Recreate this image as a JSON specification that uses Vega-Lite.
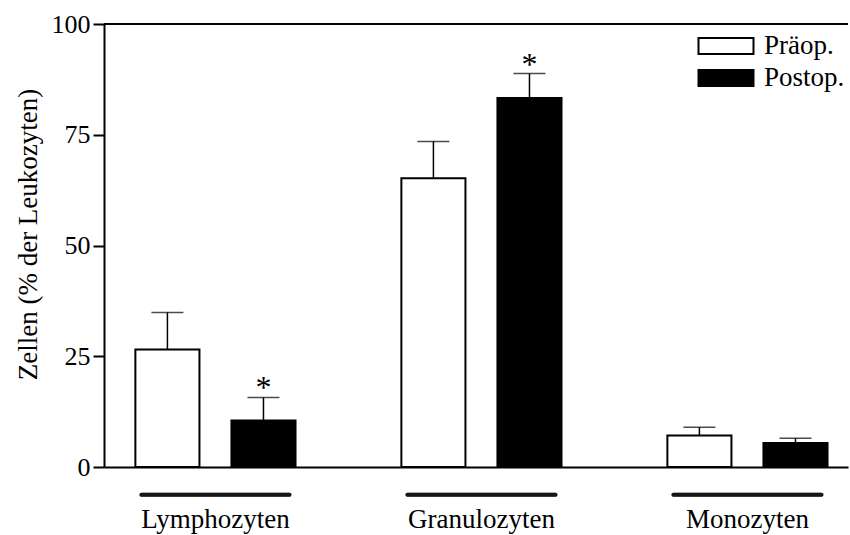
{
  "$schema": "https://vega.github.io/schema/vega-lite/v6.json",
  "width": 744,
  "height": 443,
  "autosize": "none",
  "padding": {"left": 104, "top": 24, "right": 2, "bottom": 68},
  "background": "white",
  "config": {
    "font": "Liberation Serif",
    "view": {"stroke": null},
    "axis": {"labelFont": "Liberation Serif", "titleFont": "Liberation Serif", "labelColor": "black", "titleColor": "black"},
    "legend": {"labelFont": "Liberation Serif"}
  },
  "data": {
    "values": [
      {"zelltyp": "Lymphozyten", "zeitpunkt": "Präop.", "wert": 26.5, "oben": 34.9, "sig": ""},
      {"zelltyp": "Lymphozyten", "zeitpunkt": "Postop.", "wert": 10.5, "oben": 15.7, "sig": "*"},
      {"zelltyp": "Granulozyten", "zeitpunkt": "Präop.", "wert": 65.2, "oben": 73.5, "sig": ""},
      {"zelltyp": "Granulozyten", "zeitpunkt": "Postop.", "wert": 83.3, "oben": 88.8, "sig": "*"},
      {"zelltyp": "Monozyten", "zeitpunkt": "Präop.", "wert": 7.1, "oben": 9.0, "sig": ""},
      {"zelltyp": "Monozyten", "zeitpunkt": "Postop.", "wert": 5.4, "oben": 6.5, "sig": ""}
    ]
  },
  "layer": [
    {
      "mark": {"type": "rule", "color": "black", "strokeWidth": 2},
      "encoding": {"y": {"datum": 100, "type": "quantitative", "scale": {"domain": [0, 100]}}}
    },
    {
      "mark": {"type": "bar", "stroke": "black", "strokeWidth": 2, "opacity": 1},
      "encoding": {
        "x": {
          "field": "zelltyp", "type": "nominal", "sort": ["Lymphozyten", "Granulozyten", "Monozyten"],
          "scale": {"paddingInner": 0.398, "paddingOuter": 0.0975, "align": 0.605},
          "axis": {"title": null, "ticks": false, "labelAngle": 0, "labelFontSize": 27, "labelPadding": 39,
                   "domainColor": "black", "domainWidth": 2}
        },
        "xOffset": {"field": "zeitpunkt", "type": "nominal", "sort": ["Präop.", "Postop."],
                    "scale": {"paddingInner": 0.333, "paddingOuter": 0}},
        "y": {
          "field": "wert", "type": "quantitative",
          "scale": {"domain": [0, 100], "nice": false},
          "axis": {"title": "Zellen (% der Leukozyten)", "values": [0, 25, 50, 75, 100], "grid": false,
                   "labelFontSize": 26, "titleFontSize": 27, "titleFontWeight": "normal",
                   "tickSize": 11, "tickColor": "black", "tickWidth": 2, "labelPadding": 3,
                   "domainColor": "black", "domainWidth": 2, "titlePadding": 9, "titleY": 210}
        },
        "color": {
          "field": "zeitpunkt", "type": "nominal", "sort": ["Präop.", "Postop."],
          "scale": {"domain": ["Präop.", "Postop."], "range": ["white", "black"]},
          "legend": {
            "title": null, "orient": "none", "legendX": 607, "legendY": 7,
            "symbolType": "M-2,-0.58H2V0.58H-2Z", "symbolSize": 756,
            "symbolStrokeColor": "black", "symbolStrokeWidth": 2, "symbolOpacity": 1,
            "labelFontSize": 27, "labelOffset": 23, "labelColor": "black", "rowPadding": 4
          }
        }
      }
    },
    {
      "mark": {"type": "rule", "color": "black", "strokeWidth": 1.5},
      "encoding": {
        "x": {"field": "zelltyp", "type": "nominal", "sort": ["Lymphozyten", "Granulozyten", "Monozyten"]},
        "xOffset": {"field": "zeitpunkt", "type": "nominal", "sort": ["Präop.", "Postop."]},
        "y": {"field": "wert", "type": "quantitative"},
        "y2": {"field": "oben"}
      }
    },
    {
      "mark": {"type": "tick", "color": "black", "thickness": 1.5, "size": 32, "orient": "horizontal"},
      "encoding": {
        "x": {"field": "zelltyp", "type": "nominal", "sort": ["Lymphozyten", "Granulozyten", "Monozyten"]},
        "xOffset": {"field": "zeitpunkt", "type": "nominal", "sort": ["Präop.", "Postop."]},
        "y": {"field": "oben", "type": "quantitative"}
      }
    },
    {
      "transform": [{"filter": "datum.sig != ''"}],
      "mark": {"type": "text", "fontSize": 32, "baseline": "alphabetic", "dy": 1, "color": "black"},
      "encoding": {
        "x": {"field": "zelltyp", "type": "nominal", "sort": ["Lymphozyten", "Granulozyten", "Monozyten"]},
        "xOffset": {"field": "zeitpunkt", "type": "nominal", "sort": ["Präop.", "Postop."]},
        "y": {"field": "oben", "type": "quantitative"},
        "text": {"field": "sig"}
      }
    },
    {
      "mark": {"type": "tick", "color": "black", "thickness": 4, "size": 152, "orient": "horizontal", "cornerRadius": 2, "clip": false},
      "encoding": {
        "x": {"field": "zelltyp", "type": "nominal", "sort": ["Lymphozyten", "Granulozyten", "Monozyten"]},
        "y": {"datum": -6.25, "type": "quantitative"}
      }
    }
  ]
}
